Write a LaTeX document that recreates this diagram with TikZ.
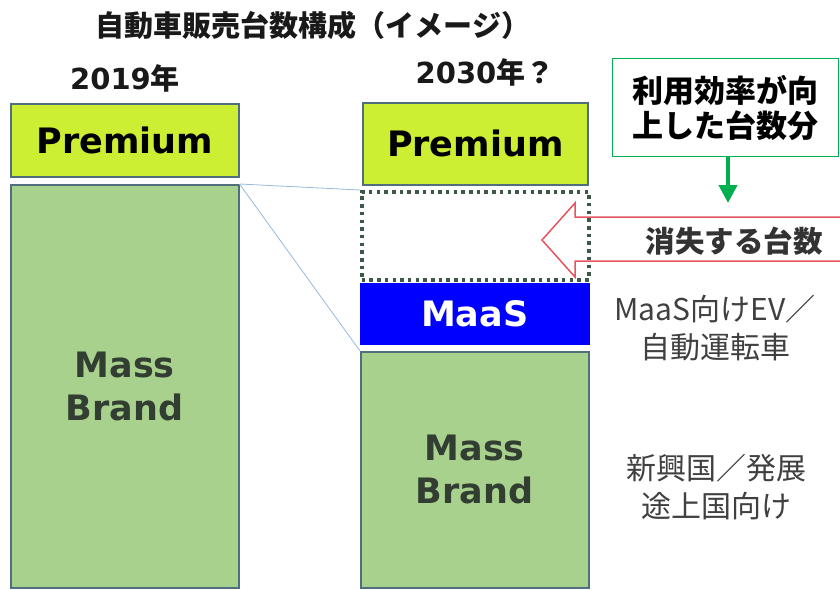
\documentclass[tikz,border=0pt]{standalone}
\usepackage{fontspec}
\newfontfamily\cjk{Noto Sans CJK JP}
\newfontfamily\dv{DejaVu Sans}
\usetikzlibrary{arrows.meta}
\definecolor{prem}{RGB}{204,238,51}
\definecolor{mass}{RGB}{169,209,142}
\definecolor{edge}{RGB}{80,110,125}
\definecolor{massTxt}{RGB}{50,62,50}
\definecolor{dotc}{RGB}{60,88,70}
\definecolor{maas}{RGB}{0,0,255}
\definecolor{link}{RGB}{150,185,220}
\definecolor{redarr}{RGB}{230,85,95}
\definecolor{grn}{RGB}{0,176,80}
\definecolor{txtg}{RGB}{64,64,64}
\begin{document}
\begin{tikzpicture}[x=1pt,y=-1pt,
  bar/.style={draw=edge, line width=1.5pt, anchor=north west, inner sep=0pt, align=center,
    text=massTxt, font=\dv\bfseries\fontsize{35}{43}\selectfont},
  head/.style={font=\cjk\bfseries\fontsize{29}{34}\selectfont, text=black!90, inner sep=0pt},
  note/.style={font=\cjk\fontsize{30}{38}\selectfont, text=txtg, align=center, inner sep=0pt},
  link/.style={draw=link, line width=0.8pt}]
\useasboundingbox (0,0) rectangle (840,589);
% titles
\node[head] (title) at (313,25) {自動車販売台数構成（イメージ）};
\node[head] (y2019) at (125,78) {{\dv\bfseries 2019}年};
\node[head] (y2030) at (485,72) {{\dv\bfseries 2030}年？};
% left column
\node[bar, fill=prem, text=black, minimum width=228pt, minimum height=73pt] (lp) at (10,103) {Premium};
\node[bar, fill=mass, minimum width=228pt, minimum height=403pt] (lm) at (10,184) {Mass\\Brand};
% red arrow (drawn before dotted box)
\draw[draw=redarr, fill=white, line width=1.5pt, line join=miter]
  (841,217) -- (575,217) -- (575,203) -- (542,240) -- (575,277) -- (575,261) -- (841,261);
\node[font=\cjk\bfseries\fontsize{29.5}{34}\selectfont, text=black!80, inner sep=0pt] (lost) at (734,241) {消失する台数};
% right column
\node[bar, fill=prem, text=black, minimum width=225pt, minimum height=82pt] (rp) at (362,102) {Premium};
\node[draw=dotc, line width=3.5pt, dash pattern=on 3.5pt off 4.2pt, anchor=north west, inner sep=0pt,
  minimum width=227pt, minimum height=88pt] (dot) at (360,190) {};
\node[bar, draw=maas, fill=maas, text=white, minimum width=228pt, minimum height=60pt] (maas) at (360,283) {MaaS};
\node[bar, fill=mass, minimum width=228pt, minimum height=236pt] (rm) at (360,351) {Mass\\Brand};
% links
\draw[link] (lm.north east) -- (dot.north west);
\draw[link] (lm.north east) -- (rm.north west);
% green note
\node[draw=grn, line width=1.2pt, fill=white, anchor=north west, inner sep=0pt, align=center,
  minimum width=226pt, minimum height=98pt, font=\cjk\bfseries\fontsize{31}{35}\selectfont, text=black] (gb) at (612,58) {利用効率が向\\上した台数分};
\coordinate (gt) at (728,203);
\draw[grn, line width=4pt, -{Triangle[width=18pt,length=18pt]}] (gt |- gb.south) -- (gt);
% side notes
\node[note] (maasNote) at (715,328) {MaaS向けEV／\\自動運転車};
\node[note] (newNote) at (716,487) {新興国／発展\\途上国向け};
\end{tikzpicture}
\end{document}
